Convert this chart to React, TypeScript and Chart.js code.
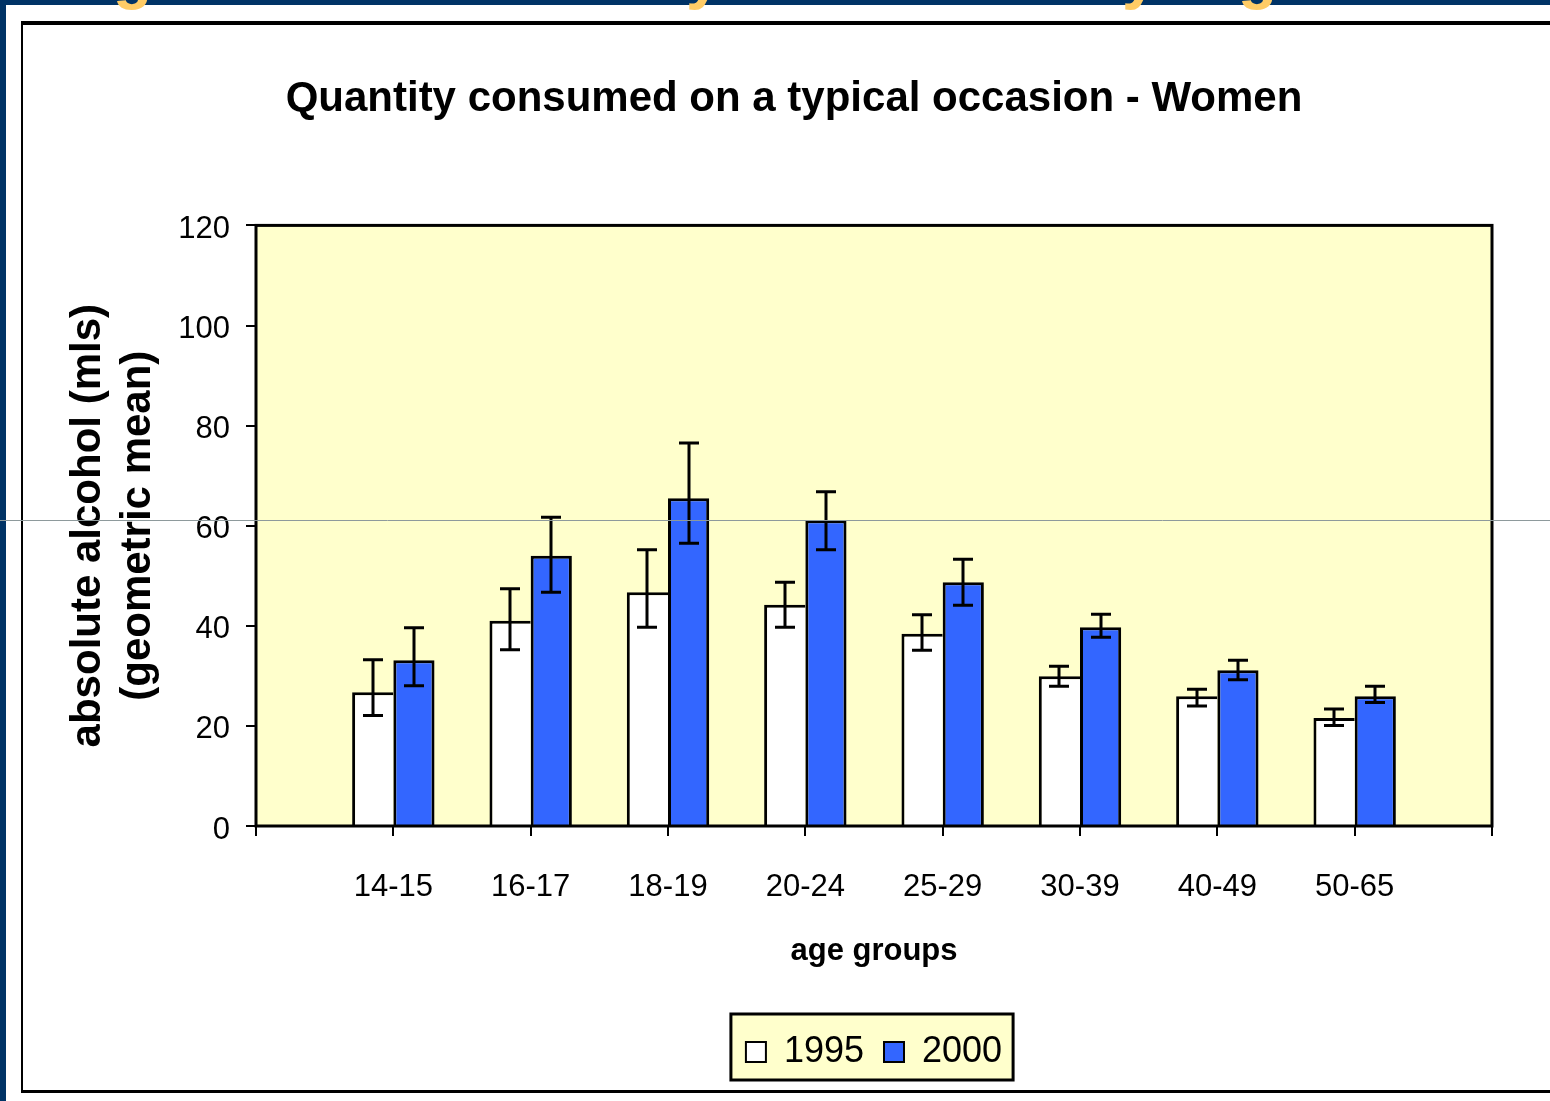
import React, { useEffect, useRef } from 'react';
import { Chart, registerables } from 'chart.js';

Chart.register(...registerables);

// ---- data ----
const CATEGORIES = ['14-15', '16-17', '18-19', '20-24', '25-29', '30-39', '40-49', '50-65'];
const SERIES_NAMES = ['1995', '2000'];
const MEAN_1995 = [26.7, 41.0, 46.7, 44.2, 38.4, 29.9, 25.9, 21.6];
const LOW_1995 = [22.1, 35.2, 39.7, 39.7, 35.1, 27.9, 24.0, 20.1];
const HIGH_1995 = [33.2, 47.4, 55.2, 48.7, 42.2, 31.9, 27.3, 23.4];
const MEAN_2000 = [33.1, 54.0, 65.5, 61.1, 48.7, 39.7, 31.1, 25.9];
const LOW_2000 = [28.0, 46.7, 56.5, 55.2, 44.1, 37.7, 29.2, 24.7];
const HIGH_2000 = [39.6, 61.7, 76.5, 66.8, 53.3, 42.3, 33.1, 27.9];
const Y_MIN = 0;
const Y_MAX = 120;
const Y_STEP = 20;
const GUIDE_VALUE = 61.2;

const TITLE = 'Quantity consumed on a typical occasion - Women';
const Y_TITLE = ['absolute alcohol (mls)', '(geometric mean)'];
const X_TITLE = 'age groups';

const FONT = '"Liberation Sans", Arial, Helvetica, sans-serif';

export default function App() {
  const ref = useRef<HTMLCanvasElement>(null);

  useEffect(() => {
    const canvas = ref.current;
    if (!canvas) return;
    const padArr = (a: number[]) => [null, ...a, null];
    const labels = ['', ...CATEGORIES, ''];
    const lows = [padArr(LOW_1995), padArr(LOW_2000)];
    const highs = [padArr(HIGH_1995), padArr(HIGH_2000)];

    const decor = {
      id: 'decor',
      beforeDraw(chart: any) {
        const { ctx, chartArea: ca, width, height } = chart;
        ctx.save();
        ctx.fillStyle = '#ffffff';
        ctx.fillRect(0, 0, width, height);
        // slide frame
        ctx.fillStyle = '#003366';
        ctx.fillRect(0, 0, width, 5);
        ctx.fillRect(0, 0, 6, height);
        // chart object border
        ctx.fillStyle = '#000000';
        ctx.fillRect(21, 21, width - 21, 4);
        ctx.fillRect(21, 21, 2, 1072);
        ctx.fillRect(21, 1090, width - 21, 3);
        // plot area fill
        ctx.fillStyle = '#FFFFCC';
        ctx.fillRect(ca.left, ca.top, ca.right - ca.left, ca.bottom - ca.top);
        // legend box
        const lg = chart.legend;
        if (lg && lg.legendHitBoxes && lg.legendHitBoxes.length) {
          const hb = lg.legendHitBoxes;
          let l = Infinity, r = -Infinity;
          hb.forEach((h: any) => {
            l = Math.min(l, h.left);
            r = Math.max(r, h.left + h.width);
          });
          const x0 = l - 15, x1 = r + 11;
          const y0 = lg.top, y1 = lg.bottom;
          ctx.fillStyle = '#FFFFCC';
          ctx.fillRect(x0, y0, x1 - x0, y1 - y0);
          ctx.strokeStyle = '#000000';
          ctx.lineWidth = 3;
          ctx.strokeRect(x0, y0, x1 - x0, y1 - y0);
        }
        ctx.restore();
      },
      afterDatasetsDraw(chart: any) {
        const { ctx, chartArea: ca } = chart;
        const ys = chart.scales.y;
        ctx.save();
        // plot frame
        ctx.strokeStyle = '#000000';
        ctx.lineWidth = 3;
        ctx.strokeRect(ca.left, ca.top, ca.right - ca.left, ca.bottom - ca.top);
        // error bars
        ctx.lineWidth = 3;
        ctx.lineCap = 'butt';
        chart.data.datasets.forEach((ds: any, d: number) => {
          const meta = chart.getDatasetMeta(d);
          meta.data.forEach((el: any, i: number) => {
            const lo = lows[d][i];
            const hi = highs[d][i];
            if (lo == null || hi == null || ds.data[i] == null) return;
            const x = Math.round(el.x);
            const yl = ys.getPixelForValue(lo);
            const yh = ys.getPixelForValue(hi);
            ctx.beginPath();
            ctx.moveTo(x, yl);
            ctx.lineTo(x, yh);
            ctx.moveTo(x - 10, yl);
            ctx.lineTo(x + 10, yl);
            ctx.moveTo(x - 10, yh);
            ctx.lineTo(x + 10, yh);
            ctx.stroke();
          });
        });
        ctx.restore();
      },
      afterDraw(chart: any) {
        const { ctx, width } = chart;
        const y = Math.round(chart.scales.y.getPixelForValue(GUIDE_VALUE)) + 0.5;
        ctx.save();
        ctx.strokeStyle = '#8E9A9C';
        ctx.lineWidth = 1;
        ctx.beginPath();
        ctx.moveTo(0, y);
        ctx.lineTo(width, y);
        ctx.stroke();
        ctx.restore();
      },
    };

    const chart = new Chart(canvas, {
      type: 'bar',
      data: {
        labels,
        datasets: [
          {
            label: SERIES_NAMES[0],
            data: padArr(MEAN_1995),
            backgroundColor: '#FFFFFF',
            borderColor: '#000000',
            borderWidth: { top: 3, left: 3, right: 0, bottom: 0 },
            borderSkipped: false,
            categoryPercentage: 0.6,
            barPercentage: 1,
          },
          {
            label: SERIES_NAMES[1],
            data: padArr(MEAN_2000),
            backgroundColor: '#3366FF',
            borderColor: '#000000',
            borderWidth: { top: 3, left: 3, right: 3, bottom: 0 },
            borderSkipped: false,
            categoryPercentage: 0.6,
            barPercentage: 1,
          },
        ],
      },
      options: {
        responsive: false,
        animation: false,
        devicePixelRatio: 1,
        layout: { padding: { left: 40, right: 2, top: 20, bottom: 21 } },
        scales: {
          x: {
            type: 'category',
            offset: false,
            grid: {
              offset: false,
              drawOnChartArea: false,
              drawTicks: true,
              tickLength: 10,
              lineWidth: 2,
              color: '#000000',
            },
            border: { display: false },
            ticks: {
              autoSkip: false,
              maxRotation: 0,
              minRotation: 0,
              padding: 33,
              color: '#000000',
              font: { family: FONT, size: 31 },
            },
            title: {
              display: true,
              text: X_TITLE,
              color: '#000000',
              font: { family: FONT, size: 31, weight: 'bold' },
              padding: { top: 0, bottom: 44 },
            },
            afterFit: (s: any) => {
              s.height = 188;
            },
          },
          y: {
            type: 'linear',
            position: 'left',
            min: Y_MIN,
            max: Y_MAX,
            grid: {
              drawOnChartArea: false,
              drawTicks: true,
              tickLength: 10,
              lineWidth: 2,
              color: '#000000',
            },
            border: { display: false },
            ticks: {
              stepSize: Y_STEP,
              padding: 16,
              labelOffset: 4,
              color: '#000000',
              font: { family: FONT, size: 31 },
            },
            title: {
              display: true,
              text: Y_TITLE,
              color: '#000000',
              font: { family: FONT, size: 42, weight: 'bold', lineHeight: 1.2 },
              padding: { top: 23, bottom: 0 },
            },
            afterFit: (s: any) => {
              s.width = 216;
            },
          },
          yR: {
            type: 'linear',
            position: 'right',
            display: true,
            grid: { display: false },
            border: { display: false },
            ticks: { display: false },
            afterFit: (s: any) => {
              s.width = 56;
            },
          },
        },
        plugins: {
          title: {
            display: true,
            text: TITLE,
            color: '#000000',
            font: { family: FONT, size: 42, weight: 'bold', lineHeight: 1.2 },
            padding: { top: 54, bottom: 101 },
          },
          legend: {
            display: true,
            position: 'bottom',
            fullSize: false,
            labels: {
              color: '#000000',
              font: { family: FONT, size: 36 },
              boxWidth: 20,
              boxHeight: 20,
              padding: 20,
              generateLabels: (c: any) => {
                const items = Chart.defaults.plugins.legend.labels.generateLabels(c);
                return items.map((it: any) => ({ ...it, lineWidth: 2, strokeStyle: '#000000' }));
              },
            },
          },
          tooltip: { enabled: false },
        },
      },
      plugins: [decor],
    } as any);

    return () => chart.destroy();
  }, []);

  const orange: React.CSSProperties = {
    position: 'absolute',
    top: -57,
    fontFamily: FONT,
    fontWeight: 'bold',
    fontSize: 64,
    lineHeight: 1,
    color: '#FFCC66',
  };

  return (
    <div style={{ position: 'fixed', left: 0, top: 0, width: 1550, height: 1101, overflow: 'hidden', background: '#fff' }}>
      <canvas ref={ref} width={1550} height={1101} style={{ display: 'block', width: 1550, height: 1101 }} />
      <div style={{ position: 'absolute', left: 0, top: 0, width: 1550, height: 12, overflow: 'hidden' }}>
        <span style={{ ...orange, left: 113 }}>g</span>
        <span style={{ ...orange, left: 686 }}>y</span>
        <span style={{ ...orange, left: 1122 }}>y</span>
        <span style={{ ...orange, left: 1238 }}>g</span>
      </div>
    </div>
  );
}
